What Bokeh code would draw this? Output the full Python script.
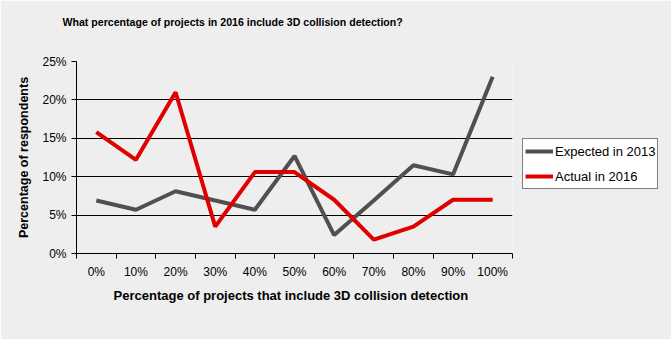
from bokeh.plotting import figure
from bokeh.models import Range1d, FixedTicker, Legend, LegendItem, PrintfTickFormatter, ColumnDataSource, Title
from bokeh.embed import file_html
from bokeh.resources import INLINE

categories = ["0%", "10%", "20%", "30%", "40%", "50%", "60%", "70%", "80%", "90%", "100%"]
expected_2013 = [6.9, 5.7, 8.1, 6.9, 5.7, 12.7, 2.4, 6.9, 11.5, 10.3, 23.0]
actual_2016 = [15.8, 12.2, 21.0, 3.5, 10.6, 10.6, 7.0, 1.8, 3.5, 7.0, 7.0]
y_ticks = [0, 5, 10, 15, 20, 25]

FONT = "Liberation Sans"
BG = "#eeeeee"

xs = [i + 0.5 for i in range(len(categories))]

p = figure(frame_width=436, frame_height=192, output_backend="svg", toolbar_location=None,
           x_range=Range1d(0, len(categories)), y_range=Range1d(0, 25),
           min_border_left=76, min_border_right=0, min_border_top=61, min_border_bottom=86)
p.background_fill_color = BG
p.border_fill_color = BG
p.outline_line_color = None

p.title.text = "What percentage  of projects  in 2016 include 3D collision detection?"
p.title.text_font = FONT
p.title.text_font_size = "10.6px"
p.title.text_font_style = "bold"
p.title.text_color = "black"
p.title.align = "left"
p.title.offset = -14

spacer = Title(text=" ", text_font_size="16px")
p.add_layout(spacer, "above")

src = ColumnDataSource(dict(x=xs, e=expected_2013, a=actual_2016))
r1 = p.line("x", "e", source=src, line_color="#505050", line_width=4)
r2 = p.line("x", "a", source=src, line_color="#e00000", line_width=4)

p.xgrid.visible = False
p.ygrid.grid_line_color = "black"
p.ygrid.grid_line_width = 1
p.ygrid.ticker = FixedTicker(ticks=y_ticks)

xa = p.xaxis[0]
xa.ticker = FixedTicker(ticks=xs, minor_ticks=list(range(len(categories) + 1)))
xa.major_label_overrides = {x: c for x, c in zip(xs, categories)}
xa.major_tick_line_color = None
xa.minor_tick_line_color = "black"
xa.minor_tick_out = 5
xa.minor_tick_in = 0
xa.axis_line_color = "black"
xa.major_label_text_font = FONT
xa.major_label_text_font_size = "12px"
xa.major_label_text_color = "black"
xa.major_label_standoff = 5
xa.axis_label = "Percentage  of projects that  include 3D collision detection"
xa.axis_label_text_font = FONT
xa.axis_label_text_font_size = "13px"
xa.axis_label_text_font_style = "bold"
xa.axis_label_text_color = "black"
xa.axis_label_standoff = 6

ya = p.yaxis[0]
ya.ticker = FixedTicker(ticks=y_ticks, minor_ticks=[])
ya.formatter = PrintfTickFormatter(format="%d%%")
ya.major_tick_out = 5
ya.major_tick_in = 0
ya.major_tick_line_color = "black"
ya.axis_line_color = "black"
ya.major_label_text_font = FONT
ya.major_label_text_font_size = "12px"
ya.major_label_text_color = "black"
ya.major_label_standoff = 5
ya.axis_label = "Percentage of respondents"
ya.axis_label_text_font = FONT
ya.axis_label_text_font_size = "12.5px"
ya.axis_label_text_font_style = "bold"
ya.axis_label_text_color = "black"
ya.axis_label_standoff = 8

legend = Legend(items=[LegendItem(label="Expected in 2013", renderers=[r1]),
                       LegendItem(label="Actual in 2016", renderers=[r2])],
                location=(10, 64))
legend.border_line_color = "black"
legend.border_line_width = 1
legend.background_fill_color = "white"
legend.background_fill_alpha = 1
legend.label_text_font = FONT
legend.label_text_font_size = "13px"
legend.label_text_color = "black"
legend.glyph_width = 28
legend.glyph_height = 20
legend.label_height = 20
legend.spacing = 5
legend.padding = 2
legend.margin = 0
legend.label_standoff = 2
p.add_layout(legend, "right")

open("out.html", "w").write(file_html(p, INLINE))
